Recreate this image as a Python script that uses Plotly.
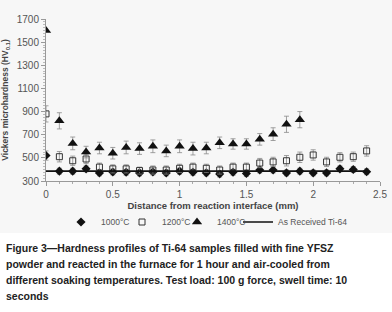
import plotly.graph_objects as go

x_long = [0, 0.1, 0.2, 0.3, 0.4, 0.5, 0.6, 0.7, 0.8, 0.9, 1.0, 1.1, 1.2, 1.3, 1.4, 1.5,
          1.6, 1.7, 1.8, 1.9, 2.0, 2.1, 2.2, 2.3, 2.4]
x_1400 = [0, 0.1, 0.2, 0.3, 0.4, 0.5, 0.6, 0.7, 0.8, 0.9, 1.0, 1.1, 1.2, 1.3, 1.4, 1.5,
          1.6, 1.7, 1.8, 1.9]

hv_1000 = [520, 385, 385, 405, 370, 378, 375, 370, 378, 370, 385, 375, 370, 360, 375, 365,
           395, 395, 370, 385, 370, 370, 405, 400, 380]
err_1000 = [40, 25, 25, 25, 25, 25, 25, 25, 25, 25, 25, 25, 25, 25, 25, 25,
            25, 25, 25, 25, 25, 25, 25, 25, 25]

hv_1200 = [880, 510, 475, 490, 420, 405, 405, 390, 395, 395, 410, 420, 410, 395, 420, 420,
           455, 465, 475, 505, 525, 465, 505, 510, 560]
err_1200 = [70, 45, 40, 40, 35, 35, 35, 30, 35, 35, 35, 35, 35, 35, 35, 35,
            40, 40, 45, 45, 45, 40, 40, 40, 45]

hv_1400 = [1600, 820, 625, 550, 585, 540, 590, 580, 600, 560, 600, 580, 585, 630, 620, 620,
           660, 705, 790, 830]
err_1400 = [0, 70, 55, 50, 50, 50, 55, 50, 55, 50, 55, 55, 50, 50, 45, 45,
            50, 55, 70, 70]

x_ref = [0, 2.4]
hv_ref = [385, 385]

names = ["1000°C", "1200°C", "1400°C", "As Received Ti-64"]

x_ticks = [0, 0.5, 1, 1.5, 2, 2.5]
x_tick_labels = ["0", "0.5", "1", "1.5", "2", "2.5"]
y_ticks = [300, 500, 700, 900, 1100, 1300, 1500, 1700]

caption_lines = [
    "Figure 3\u2014Hardness profiles of Ti-64 samples filled with fine YFSZ",
    "powder and reacted in the furnace for 1 hour and air-cooled from",
    "different soaking temperatures. Test load: 100 g force, swell time: 10",
    "seconds",
]

W, H = 392, 312
L, R, T, B = 46, 12, 19, 131
pw = W - L - R
ph = H - T - B


def py2paper(py):
    return (H - B - py) / ph


def px2paper(px):
    return (px - L) / pw


eb = dict(type="data", thickness=0.8, width=2.5, color="#8a8a8a")

fig = go.Figure()
fig.add_trace(go.Scatter(
    x=x_long, y=hv_1000, mode="markers", name=names[0], legend="legend",
    marker=dict(symbol="diamond", size=7, color="#111111"),
    error_y=dict(array=err_1000, **eb)))
fig.add_trace(go.Scatter(
    x=x_long, y=hv_1200, mode="markers", name=names[1], legend="legend2",
    marker=dict(symbol="square-open", size=6, color="#333333", line=dict(width=1)),
    error_y=dict(array=err_1200, **eb)))
fig.add_trace(go.Scatter(
    x=x_1400, y=hv_1400, mode="markers", name=names[2], legend="legend3",
    marker=dict(symbol="triangle-up", size=9, color="#111111"),
    error_y=dict(array=err_1400, **eb)))
fig.add_trace(go.Scatter(
    x=x_ref, y=hv_ref, mode="lines", name=names[3], legend="legend4",
    line=dict(color="#111111", width=1.6)))


def leg(px):
    return dict(orientation="h", x=px2paper(px), xanchor="left", y=py2paper(222), yanchor="middle",
                font=dict(size=8.5, color="#555555"), itemwidth=30, bgcolor="rgba(0,0,0,0)",
                borderwidth=0)


fig.update_layout(
    width=W, height=H,
    margin=dict(l=L, r=R, t=T, b=B, autoexpand=False),
    paper_bgcolor="white", plot_bgcolor="rgba(0,0,0,0)",
    font=dict(family="Arial, Liberation Sans, sans-serif", color="#444444", size=9),
    showlegend=True,
    legend=leg(61), legend2=leg(122), legend3=leg(177), legend4=leg(238),
    shapes=[dict(type="rect", xref="paper", yref="paper", x0=px2paper(0), x1=px2paper(W),
                 y0=py2paper(233), y1=py2paper(0), fillcolor="#f7f7f7", line=dict(width=0), layer="below")],
)
fig.update_xaxes(
    range=[0, 2.5], tickvals=x_ticks, ticktext=x_tick_labels, automargin=False,
    showgrid=False, zeroline=False, showline=True, linecolor="#999999", linewidth=1,
    ticks="outside", ticklen=4, tickcolor="#999999",
    minor=dict(ticks="outside", ticklen=2, dtick=0.1, tickcolor="#aaaaaa"),
    tickfont=dict(size=10, color="#555555"),
    title=dict(text="<b>Distance from reaction interface (mm)</b>", font=dict(size=9.5, color="#444444"),
               standoff=2),
)
fig.update_yaxes(
    range=[300, 1700], tickvals=y_ticks, automargin=False,
    showgrid=False, zeroline=False, showline=True, linecolor="#999999", linewidth=1,
    ticks="outside", ticklen=4, tickcolor="#999999",
    minor=dict(ticks="outside", ticklen=2, dtick=25, tickcolor="#bbbbbb"),
    tickfont=dict(size=10, color="#555555"),
    title=dict(text="<b>Vickers microhardness (HV<sub>0.1</sub>)</b>", font=dict(size=8.5, color="#444444"),
               standoff=8),
)

for i, line in enumerate(caption_lines):
    fig.add_annotation(
        text="<b>" + line + "</b>", xref="paper", yref="paper",
        x=px2paper(4), xanchor="left",
        y=py2paper(248 + i * 16), yanchor="middle", showarrow=False,
        font=dict(family="Arial, Liberation Sans, sans-serif", size=10.5, color="#222222"))

fig.write_html("out.html", config={"displayModeBar": False},
               post_script="document.body.style.margin='0';document.body.style.overflow='hidden';")
